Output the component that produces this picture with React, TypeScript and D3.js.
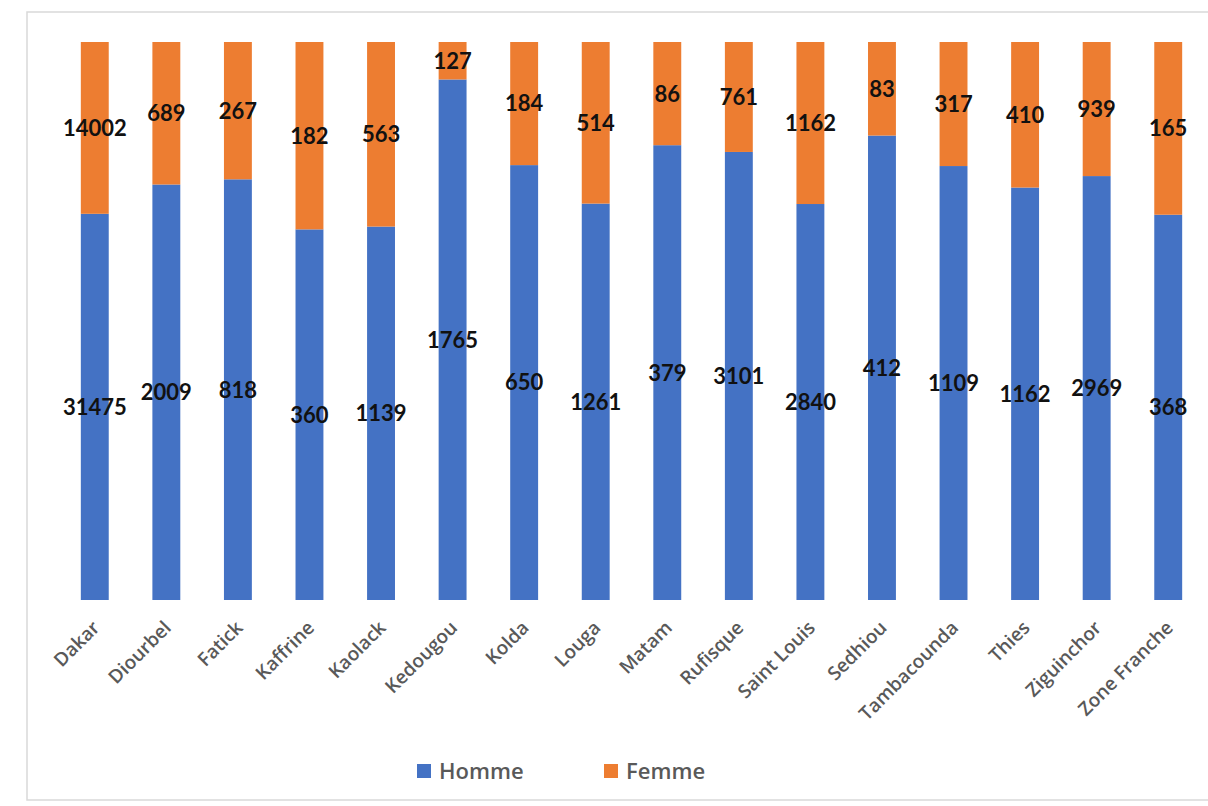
import React from "react";
import * as d3 from "d3";

const categories = ["Dakar", "Diourbel", "Fatick", "Kaffrine", "Kaolack", "Kedougou", "Kolda", "Louga", "Matam", "Rufisque", "Saint Louis", "Sedhiou", "Tambacounda", "Thies", "Ziguinchor", "Zone Franche"];
const homme = [31475, 2009, 818, 360, 1139, 1765, 650, 1261, 379, 3101, 2840, 412, 1109, 1162, 2969, 368];
const femme = [14002, 689, 267, 182, 563, 127, 184, 514, 86, 761, 1162, 83, 317, 410, 939, 165];
const seriesNames = ["Homme", "Femme"];
const colors = ["#4472C4", "#ED7D31"];

const W = 1208, H = 806;

export default function App() {
  const x = d3.scaleBand<string>().domain(categories).range([59, 1204]).paddingInner(0.61).paddingOuter(0.305);
  const y = d3.scaleLinear().domain([0, 1]).range([600, 42]);
  const rows = categories.map((c, i) => ({ cat: c, Homme: homme[i], Femme: femme[i] }));
  const stacked = d3.stack<any>().keys(seriesNames).offset(d3.stackOffsetExpand)(rows);
  const labelFont = "Lato, 'Open Sans', sans-serif";
  const axisFont = "'Open Sans', Lato, sans-serif";
  return (
    <svg width={W} height={H} style={{ position: "absolute", left: 0, top: 0, background: "#fff" }}>
      <rect x={27} y={12} width={1190} height={788} fill="#fff" stroke="#d9d9d9" strokeWidth={1.5} />
      {stacked.map((s, si) => (
        <g key={s.key}>
          {s.map((d, i) => (
            <rect key={i} x={x(categories[i])} width={x.bandwidth()} y={y(d[1])} height={y(d[0]) - y(d[1])} fill={colors[si]} />
          ))}
        </g>
      ))}
      {stacked.map((s, si) => (
        <g key={s.key + "l"}>
          {s.map((d, i) => (
            <text key={i} x={(x(categories[i]) as number) + x.bandwidth() / 2} y={(y(d[0]) + y(d[1])) / 2} dy="0.36em" textAnchor="middle" fontFamily={labelFont} fontWeight="bold" fontSize={22} fill="#111">
              {(si === 0 ? homme : femme)[i]}
            </text>
          ))}
        </g>
      ))}
      {categories.map((c) => {
        const cx = (x(c) as number) + x.bandwidth() / 2 + 6;
        return (
          <text key={c} transform={`translate(${cx},629) rotate(-45)`} textAnchor="end" fontFamily={axisFont} fontWeight={600} fontSize={19} fill="#595959">{c}</text>
        );
      })}
      <g fontFamily={axisFont} fontWeight={600} fontSize={22} fill="#595959">
        <rect x={417} y={764} width={14} height={14} fill={colors[0]} />
        <text x={439} y={771} dy="0.35em">{seriesNames[0]}</text>
        <rect x={604} y={764} width={14} height={14} fill={colors[1]} />
        <text x={626} y={771} dy="0.35em">{seriesNames[1]}</text>
      </g>
    </svg>
  );
}
